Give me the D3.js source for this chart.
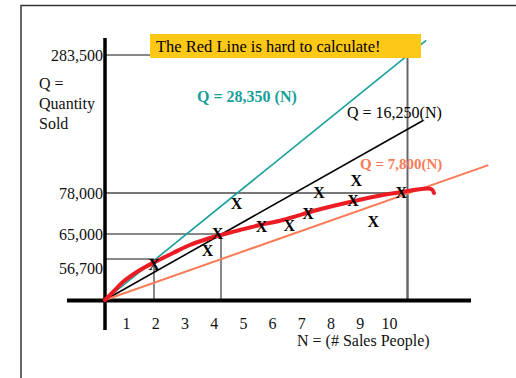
<!DOCTYPE html>
<html>
<head>
<meta charset="utf-8">
<script src="https://cdn.jsdelivr.net/npm/d3@7"></script>
<style>
  body { margin: 0; background: #fff; }
  svg { display: block; font-family: "Liberation Serif", "Times New Roman", serif; }
</style>
</head>
<body>
<div id="chart"></div>
<script>
// axis tick labels
const nTickLabels = ["1", "2", "3", "4", "5", "6", "7", "8", "9", "10"];
const qTickValues = [56700, 65000, 78000, 283500];

// straight reference lines Q = slope * N
const lineNames = ["Q = 28,350 (N)", "Q = 16,250(N)", "Q = 7,800(N)"];
const lineSlopes = [28350, 16250, 7800];
const lineEndN = [10.6, 10.5, 12.6];

// guide corners (N, Q) marked off from both axes
const guideN = [2, 4, 10, 10];
const guideQ = [56700, 65000, 78000, 283500];

// observed sales (the X marks)
const salesN = [2, 3.6, 3.9, 4.5, 5.3, 6.2, 6.8, 7.15, 8.35, 8.25, 8.9, 9.8];
const salesQ = [50000, 59700, 65300, 74800, 67500, 67900, 71700, 79300, 95200, 75800, 69100, 79300];

// hand drawn red curve
const curveN = [0, 0.37, 0.73, 1.43, 2.03, 2.57, 3.07, 3.58, 4, 4.61, 5.25, 5.99, 7.09, 8.15, 9.21, 9.82, 10.31, 10.66, 10.79, 10.85];
const curveQ = [0, 12450, 24900, 41500, 52550, 58690, 61350, 63340, 64670, 66270, 67850, 69440, 72610, 75150, 77370, 79320, 82620, 83940, 82620, 78000];

const width = 516, height = 378;
const teal = "#17a09a", salmon = "#f97b58", red = "#ec1c24";

const svg = d3.select("#chart").append("svg")
    .attr("width", width)
    .attr("height", height);

svg.append("rect").attr("width", width).attr("height", height).attr("fill", "#fff");

// the sketch is not drawn to scale, so both scales are piecewise
const x = d3.scaleLinear()
    .domain([0, 2, 4, 10])
    .range([105, 154, 221, 407.5]);

const y = d3.scaleLinear()
    .domain([0, 56700, 65000, 78000, 162500, 283500])
    .range([300, 259, 234, 193, 129, 55]);

// frame (top and left edges only)
svg.append("path")
    .attr("d", "M21,378 V5.5 H516")
    .attr("fill", "none")
    .attr("stroke", "#333")
    .attr("stroke-width", 1.5);

// guide lines
let guides = guideN.map((n, i) => ({n: n, q: guideQ[i]}));

svg.selectAll(".hguide")
    .data(guides)
    .enter().append("line")
    .attr("class", "hguide")
    .attr("x1", x(0))
    .attr("x2", d => x(d.n))
    .attr("y1", d => y(d.q))
    .attr("y2", d => y(d.q))
    .attr("stroke", d => d.q === 78000 ? "#777" : "#111")
    .attr("stroke-width", d => d.q === 78000 ? 2 : 1);

svg.selectAll(".vguide")
    .data(guides)
    .enter().append("line")
    .attr("class", "vguide")
    .attr("x1", d => x(d.n))
    .attr("x2", d => x(d.n))
    .attr("y1", y(0))
    .attr("y2", d => y(d.q))
    .attr("stroke", d => d.n === 10 ? "#666" : "#111")
    .attr("stroke-width", d => d.n === 10 ? 2 : 1);

// thick axes
svg.append("line")
    .attr("x1", x(0)).attr("x2", x(0))
    .attr("y1", 38).attr("y2", 330)
    .attr("stroke", "#000").attr("stroke-width", 3.5);

svg.append("line")
    .attr("x1", 67).attr("x2", 471)
    .attr("y1", y(0) + 0.5).attr("y2", y(0) + 0.5)
    .attr("stroke", "#000").attr("stroke-width", 4);

// tick labels
const nLabel = d3.scalePoint()
    .domain(nTickLabels)
    .range([126, 389]);

let xAxis = svg.append("g")
    .attr("transform", "translate(0," + y(0) + ")")
    .call(d3.axisBottom(nLabel).tickSize(0).tickPadding(18));
xAxis.select(".domain").remove();

let yAxis = svg.append("g")
    .attr("transform", "translate(" + (x(0) - 2) + ",0)")
    .call(d3.axisLeft(y).tickValues(qTickValues).tickFormat(d3.format(",")).tickSize(0).tickPadding(0));
yAxis.select(".domain").remove();
yAxis.selectAll("text").filter(d => d === 56700).attr("dy", "0.9em");

svg.selectAll(".tick text")
    .attr("font-size", 16)
    .attr("font-family", "Liberation Serif, serif")
    .attr("fill", "#111");

// reference lines, each straight from the origin through its N = 10 value
const lineColors = [teal, "#000", salmon];
let refLines = lineSlopes.map((s, i) => {
    let along = d3.scaleLinear().domain([0, 10]).range([y(0), y(s * 10)]);
    return [[x(0), along(0)], [x(lineEndN[i]), along(lineEndN[i])]];
});

svg.selectAll(".ref")
    .data(refLines)
    .enter().append("path")
    .attr("class", "ref")
    .attr("d", d3.line())
    .attr("fill", "none")
    .attr("stroke", (d, i) => lineColors[i])
    .attr("stroke-width", (d, i) => i === 2 ? 2 : 1.6);

// red curve
let curve = curveN.map((n, i) => [n, curveQ[i]]);
svg.append("path")
    .datum(curve)
    .attr("d", d3.line().x(d => x(d[0])).y(d => y(d[1])).curve(d3.curveCatmullRom))
    .attr("fill", "none")
    .attr("stroke", red)
    .attr("stroke-width", 4)
    .attr("stroke-linecap", "round");

// X marks
svg.selectAll(".sale")
    .data(salesN.map((n, i) => ({n: n, q: salesQ[i]})))
    .enter().append("text")
    .attr("class", "sale")
    .attr("x", d => x(d.n))
    .attr("y", d => y(d.q))
    .attr("dy", "0.36em")
    .attr("text-anchor", "middle")
    .attr("font-size", 16)
    .attr("font-weight", "bold")
    .text("X");

// banner
svg.append("rect")
    .attr("x", 150).attr("y", 34)
    .attr("width", 271).attr("height", 24)
    .attr("fill", "#fdc816");
svg.append("text")
    .attr("x", 156).attr("y", 52)
    .attr("font-size", 16.5)
    .text("The Red Line is hard to calculate!");

// axis titles
let qTitle = svg.append("text")
    .attr("font-size", 16)
    .attr("font-family", "Liberation Serif, serif")
    .attr("fill", "#111");
["Q =", "Quantity", "Sold"].forEach((t, i) => {
    qTitle.append("tspan").attr("x", 39).attr("y", 89 + i * 20).text(t);
});
svg.append("text")
    .attr("x", 297).attr("y", 346)
    .attr("font-size", 16)
    .attr("fill", "#111")
    .text("N = (# Sales People)");

// line labels
svg.append("text")
    .attr("x", 197).attr("y", 102)
    .attr("font-size", 16).attr("font-weight", "bold")
    .attr("fill", teal)
    .text(lineNames[0]);
svg.append("text")
    .attr("x", 347).attr("y", 118)
    .attr("font-size", 16)
    .attr("fill", "#000")
    .text(lineNames[1]);
svg.append("text")
    .attr("x", 360).attr("y", 169)
    .attr("font-size", 15).attr("font-weight", "bold")
    .attr("fill", salmon)
    .text(lineNames[2]);
</script>
</body>
</html>
